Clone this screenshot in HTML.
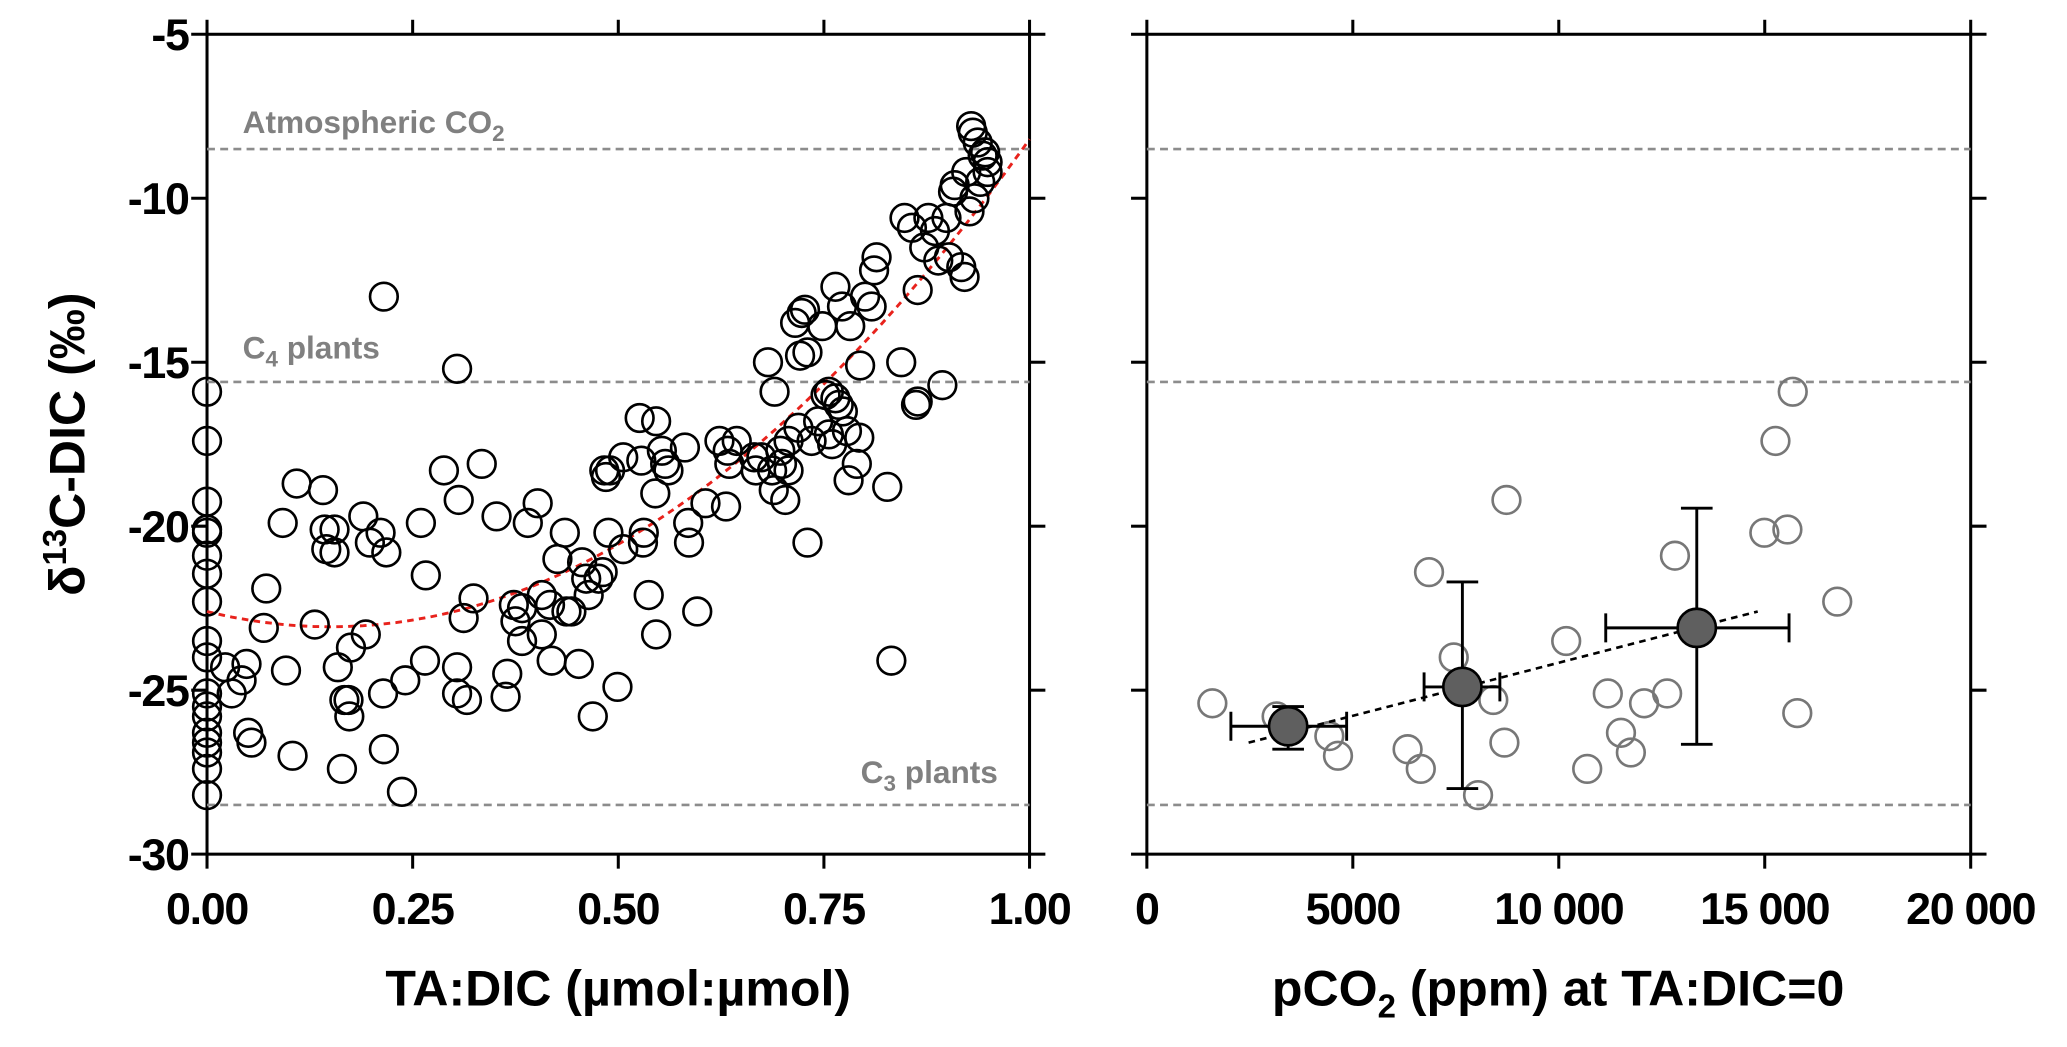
<!DOCTYPE html>
<html><head><meta charset="utf-8"><style>html,body{margin:0;padding:0;background:#fff}svg{display:block}text{font-family:"Liberation Sans",Arial,sans-serif;font-weight:bold}</style></head>
<body>
<svg id="chart" width="2067" height="1047" viewBox="0 0 1568 794.3" xmlns="http://www.w3.org/2000/svg">
<g id="left"></g>
<g id="right"></g>
</svg>
<script>
const leftX=[0,0,0,0,0,0,0,0,0,0,0,0,0,0,0,0,0,0,0.022,0.03,0.042,0.048,0.05,0.054,0.072,0.069,0.092,0.096,0.104,0.109,0.131,0.141,0.143,0.145,0.155,0.155,0.159,0.164,0.167,0.173,0.175,0.172,0.19,0.193,0.198,0.211,0.214,0.215,0.218,0.215,0.237,0.241,0.26,0.265,0.266,0.288,0.304,0.306,0.304,0.304,0.312,0.316,0.324,0.334,0.352,0.365,0.363,0.373,0.375,0.383,0.383,0.39,0.402,0.407,0.407,0.419,0.417,0.426,0.435,0.437,0.443,0.452,0.456,0.461,0.464,0.469,0.476,0.481,0.483,0.485,0.488,0.49,0.506,0.499,0.506,0.526,0.528,0.53,0.531,0.537,0.546,0.546,0.545,0.553,0.557,0.561,0.581,0.585,0.586,0.596,0.606,0.623,0.631,0.633,0.635,0.644,0.665,0.667,0.674,0.682,0.69,0.687,0.689,0.697,0.699,0.703,0.707,0.707,0.715,0.719,0.723,0.727,0.721,0.73,0.73,0.735,0.743,0.748,0.752,0.756,0.756,0.76,0.764,0.764,0.768,0.772,0.773,0.778,0.78,0.782,0.79,0.793,0.794,0.8,0.808,0.811,0.814,0.827,0.832,0.844,0.848,0.857,0.862,0.864,0.864,0.872,0.877,0.885,0.889,0.894,0.899,0.902,0.907,0.909,0.917,0.921,0.923,0.927,0.929,0.931,0.933,0.937,0.94,0.943,0.946,0.949,0.949];
const leftY=[-15.9,-17.4,-19.25,-20.1,-20.2,-20.9,-21.45,-22.3,-23.5,-24.0,-25.1,-25.5,-25.8,-26.3,-26.6,-26.9,-27.4,-28.2,-24.3,-25.1,-24.7,-24.2,-26.3,-26.6,-21.9,-23.1,-19.9,-24.4,-27.0,-18.7,-23.0,-18.9,-20.1,-20.7,-20.8,-20.1,-24.3,-27.4,-25.3,-25.8,-23.7,-25.3,-19.7,-23.3,-20.5,-20.2,-25.1,-26.8,-20.8,-13.0,-28.1,-24.7,-19.9,-24.1,-21.5,-18.3,-15.2,-19.2,-24.3,-25.1,-22.8,-25.3,-22.2,-18.1,-19.7,-24.5,-25.2,-22.4,-22.9,-22.5,-23.5,-19.9,-19.3,-22.1,-23.3,-24.1,-22.4,-21.0,-20.2,-22.6,-22.6,-24.2,-21.1,-21.6,-22.1,-25.8,-21.6,-21.4,-18.3,-18.5,-20.2,-18.3,-20.7,-24.9,-17.9,-16.7,-18.0,-20.5,-20.2,-22.1,-16.8,-23.3,-19.0,-17.7,-18.1,-18.3,-17.6,-19.9,-20.5,-22.6,-19.3,-17.4,-19.4,-17.7,-18.1,-17.4,-17.9,-18.3,-17.9,-15.0,-15.9,-18.3,-18.9,-17.7,-18.1,-19.2,-17.4,-18.3,-13.8,-17.0,-13.5,-13.4,-14.8,-20.5,-14.7,-17.4,-16.8,-13.9,-16.0,-15.9,-17.2,-17.5,-12.7,-16.1,-16.3,-13.3,-16.5,-17.1,-18.6,-13.9,-18.1,-17.3,-15.1,-13.0,-13.3,-12.2,-11.8,-18.8,-24.1,-15.0,-10.6,-10.9,-16.3,-16.2,-12.8,-11.5,-10.6,-11.0,-11.9,-15.7,-10.6,-11.8,-9.8,-9.6,-12.1,-12.4,-9.2,-10.4,-7.8,-8.0,-10.0,-8.3,-9.5,-8.7,-8.6,-9.2,-8.9];
const fitCoef=[-22.6,-6.2,20.6];
const leftXTicks=[0,0.25,0.5,0.75,1.0];
const leftXTickLabels=["0.00","0.25","0.50","0.75","1.00"];
const yTicks=[-5,-10,-15,-20,-25,-30];
const yTickLabels=["-5","-10","-15","-20","-25","-30"];
const refValues=[-8.5,-15.6,-28.5];
const rightX=[1590,3150,4430,4640,6330,6650,6850,7450,8040,8410,8680,8730,10180,10690,11190,11510,11750,12070,12630,12820,14990,15260,15550,15680,15790,16760];
const rightY=[-25.4,-25.8,-26.4,-27.0,-26.8,-27.4,-21.4,-24.0,-28.2,-25.3,-26.6,-19.2,-23.5,-27.4,-25.1,-26.3,-26.9,-25.4,-25.1,-20.9,-20.2,-17.4,-20.1,-15.9,-25.7,-22.3];
const meanX=[3430,7660,13350];
const meanY=[-26.1,-24.9,-23.1];
const meanXLo=[2040,6730,11140];
const meanXHi=[4850,8570,15590];
const meanYLo=[-26.8,-28.0,-26.65];
const meanYHi=[-25.5,-21.7,-19.45];
const trendX=[2470,14830];
const trendY=[-26.6,-22.6];
const rightXTicks=[0,5000,10000,15000,20000];
const rightXTickLabels=["0","5000","10 000","15 000","20 000"];

const NS="http://www.w3.org/2000/svg";
function mk(parent,tag,attrs,text){const e=document.createElementNS(NS,tag);for(const k in attrs)e.setAttribute(k,attrs[k]);if(text!==undefined)e.textContent=text;parent.appendChild(e);return e;}
const yTop=26,yBot=648;
function yS(v){return yTop+(-5-v)/25*(yBot-yTop);}
function lx(v){return 157+v*(781-157);}
function rx(v){return 870+v/20000*(1495-870);}

function frame(g,x0,x1,xs,xt,xl,showY){
  const r=mk(g,'rect',{x:x0,y:yTop,width:x1-x0,height:yBot-yTop,fill:'none',stroke:'#000','stroke-width':2.3});
  
  xt.forEach((t,i)=>{const x=xs(t);
    const a=mk(g,'line',{x1:x,x2:x,y1:yBot,y2:yBot+11,stroke:'#000','stroke-width':2.3});
    
    const b=mk(g,'line',{x1:x,x2:x,y1:yTop,y2:yTop-11,stroke:'#000','stroke-width':2.3});
    
    const l=mk(g,'text',{x:x,y:yBot+53,'text-anchor':'middle','font-size':34,'letter-spacing':-1},xl[i]);
    
  });
  yTicks.forEach((t,i)=>{const y=yS(t);
    const a=mk(g,'line',{x1:x0-12,x2:x0,y1:y,y2:y,stroke:'#000','stroke-width':2.3});
    
    const b=mk(g,'line',{x1:x1,x2:x1+12,y1:y,y2:y,stroke:'#000','stroke-width':2.3});
    
    if(showY){const l=mk(g,'text',{x:x0-14,y:y+12,'text-anchor':'end','font-size':34,'letter-spacing':-1},yTickLabels[i]);
      }
  });
  refValues.forEach(v=>{const y=yS(v);
    const l=mk(g,'line',{x1:x0,x2:x1,y1:y,y2:y,stroke:'#8c8c8c','stroke-width':2,'stroke-dasharray':'6,4'});
    
  });
}

const L=document.getElementById('left');
frame(L,157,781,lx,leftXTicks,leftXTickLabels,true);
const a1=mk(L,'text',{x:184,y:101,'font-size':24,fill:'#808080'});a1.innerHTML='Atmospheric CO<tspan font-size="17" dy="6">2</tspan>';

const a2=mk(L,'text',{x:184,y:272,'font-size':24,fill:'#808080'});a2.innerHTML='C<tspan font-size="17" dy="6">4</tspan><tspan dy="-6"> plants</tspan>';

const a3=mk(L,'text',{x:757,y:594,'font-size':24,fill:'#808080','text-anchor':'end'});a3.innerHTML='C<tspan font-size="17" dy="6">3</tspan><tspan dy="-6"> plants</tspan>';

let d='';for(let i=0;i<=100;i++){const x=i/100;const y=fitCoef[0]+fitCoef[1]*x+fitCoef[2]*x*x;d+=(i?'L':'M')+lx(x).toFixed(1)+','+yS(y).toFixed(1);}
const fit=mk(L,'path',{d:d,fill:'none',stroke:'#e8221c','stroke-width':2.2,'stroke-dasharray':'5,4'});

leftX.forEach((x,i)=>{const c=mk(L,'circle',{cx:lx(x),cy:yS(leftY[i]),r:10.5,fill:'none',stroke:'#000','stroke-width':2});
  });
const yt=mk(L,'text',{transform:'translate(64,337) rotate(-90)','text-anchor':'middle','font-size':38});
yt.innerHTML='δ<tspan font-size="25" dy="-14">13</tspan><tspan dy="14">C-DIC (‰)</tspan>';

const xt1=mk(L,'text',{x:469,y:763,'text-anchor':'middle','font-size':38},'TA:DIC (µmol:µmol)');


const R=document.getElementById('right');
frame(R,870,1495,rx,rightXTicks,rightXTickLabels,false);
rightX.forEach((x,i)=>{const c=mk(R,'circle',{cx:rx(x),cy:yS(rightY[i]),r:10.5,fill:'none',stroke:'#777','stroke-width':2});
  });
const tr=mk(R,'line',{x1:rx(trendX[0]),y1:yS(trendY[0]),x2:rx(trendX[1]),y2:yS(trendY[1]),stroke:'#000','stroke-width':2,'stroke-dasharray':'5,4'});

meanX.forEach((mx,i)=>{const cx=rx(mx),cy=yS(meanY[i]);
  const g=mk(R,'g',{});
  const x0=rx(meanXLo[i]),x1=rx(meanXHi[i]),y0=yS(meanYLo[i]),y1=yS(meanYHi[i]);
  mk(g,'line',{x1:x0,x2:x1,y1:cy,y2:cy,stroke:'#000','stroke-width':2.2});
  mk(g,'line',{x1:x0,x2:x0,y1:cy-11,y2:cy+11,stroke:'#000','stroke-width':2.2});
  mk(g,'line',{x1:x1,x2:x1,y1:cy-11,y2:cy+11,stroke:'#000','stroke-width':2.2});
  mk(g,'line',{x1:cx,x2:cx,y1:y0,y2:y1,stroke:'#000','stroke-width':2.2});
  mk(g,'line',{x1:cx-12,x2:cx+12,y1:y0,y2:y0,stroke:'#000','stroke-width':2.2});
  mk(g,'line',{x1:cx-12,x2:cx+12,y1:y1,y2:y1,stroke:'#000','stroke-width':2.2});
  mk(g,'circle',{cx:cx,cy:cy,r:14.5,fill:'#5f5f5f',stroke:'#000','stroke-width':2});
});
const xt2=mk(R,'text',{x:1182,y:763,'text-anchor':'middle','font-size':38});
xt2.innerHTML='pCO<tspan font-size="25" dy="9">2</tspan><tspan dy="-9"> (ppm) at TA:DIC=0</tspan>';

</script>
</body></html>
